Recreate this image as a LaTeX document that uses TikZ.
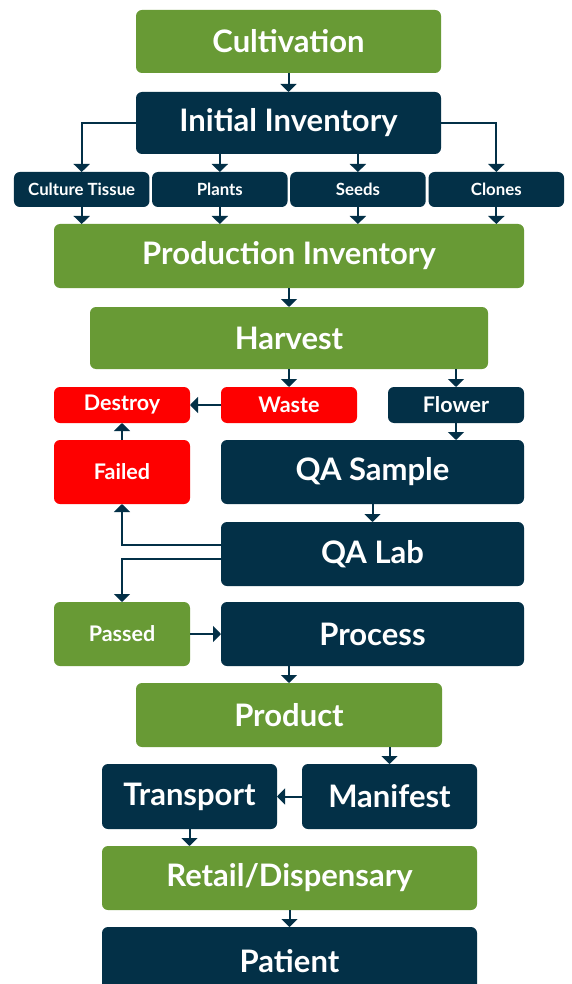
\documentclass[tikz,border=0pt]{standalone}
\usepackage{fontspec}
\setmainfont{Lato}
\usetikzlibrary{arrows.meta}
\definecolor{cgreen}{HTML}{689A35}
\definecolor{cnavy}{HTML}{033047}
\definecolor{cred}{HTML}{FE0000}
\tikzset{
  box/.style={rounded corners=6pt, inner sep=0pt, outer sep=0pt, text=white, font=\bfseries, align=center},
  gbox/.style={box, fill=cgreen},
  nbox/.style={box, fill=cnavy},
  rbox/.style={box, fill=cred},
  big/.style={font=\fontsize{31}{34}\selectfont\bfseries},
  mid/.style={font=\fontsize{21.5}{24}\selectfont\bfseries},
  sml/.style={font=\fontsize{16.8}{19}\selectfont\bfseries},
  conn/.style={draw=cnavy, line width=2pt, -{Triangle[width=16pt,length=8pt]}},
}
\begin{document}
\begin{tikzpicture}[x=1pt,y=-1pt]
\clip (0,0) rectangle (571,984);
\fill[white] (0,0) rectangle (571,984);
% nodes
\node[gbox,big,minimum width=305pt,minimum height=63pt] (cult) at (288.5,41.5) {Cultivation};
\node[nbox,big,minimum width=305pt,minimum height=62pt] (init) at (288.5,123) {Initial Inventory};
\node[nbox,sml,minimum width=135.5pt,minimum height=35pt] (ct) at (81.7,189.5) {Culture Tissue};
\node[nbox,sml,minimum width=135.5pt,minimum height=35pt] (plants) at (219.8,189.5) {Plants};
\node[nbox,sml,minimum width=135.5pt,minimum height=35pt] (seeds) at (357.9,189.5) {Seeds};
\node[nbox,sml,minimum width=135.5pt,minimum height=35pt] (clones) at (496.3,189.5) {Clones};
\node[gbox,big,minimum width=470pt,minimum height=64pt] (prod) at (289,256) {Production Inventory};
\node[gbox,big,minimum width=398pt,minimum height=62pt] (harv) at (289,338) {Harvest};
\node[rbox,mid,minimum width=136pt,minimum height=36pt] (destroy) at (122,405) {Destroy};
\node[rbox,mid,minimum width=136pt,minimum height=36pt] (waste) at (289,405) {Waste};
\node[nbox,mid,minimum width=136pt,minimum height=36pt] (flower) at (456,405) {Flower};
\node[rbox,mid,minimum width=136pt,minimum height=64pt] (failed) at (122,472) {Failed};
\node[nbox,big,minimum width=303pt,minimum height=64pt] (qas) at (372.5,472) {QA Sample};
\node[nbox,big,minimum width=303pt,minimum height=64pt] (qal) at (372.5,554) {QA Lab};
\node[gbox,mid,minimum width=136pt,minimum height=64pt] (passed) at (122,634) {Passed};
\node[nbox,big,minimum width=303pt,minimum height=64pt] (proc) at (372.5,634) {Process};
\node[gbox,big,minimum width=306pt,minimum height=64pt] (product) at (289,715) {Product};
\node[nbox,big,minimum width=175pt,minimum height=65pt] (trans) at (189.5,796.5) {Transport};
\node[nbox,big,minimum width=175pt,minimum height=65pt] (mani) at (389.5,796.5) {Manifest};
\node[gbox,big,minimum width=375pt,minimum height=64pt] (retail) at (289.5,878) {Retail/Dispensary};
\node[nbox,big,minimum width=375pt,minimum height=68pt] (patient) at (289.5,961) {Patient};
% connectors
\draw[conn] (cult) -- (init);
\draw[conn] (init.west) -| (ct.north);
\draw[conn] (plants.north |- init.south) -- (plants.north);
\draw[conn] (seeds.north |- init.south) -- (seeds.north);
\draw[conn] (init.east) -| (clones.north);
\draw[conn] (ct.south) -- (ct.south |- prod.north);
\draw[conn] (plants.south) -- (plants.south |- prod.north);
\draw[conn] (seeds.south) -- (seeds.south |- prod.north);
\draw[conn] (clones.south) -- (clones.south |- prod.north);
\draw[conn] (prod) -- (harv);
\draw[conn] (waste.north |- harv.south) -- (waste.north);
\draw[conn] (flower.north |- harv.south) -- (flower.north);
\draw[conn] (waste.west) -- (destroy.east);
\draw[conn] (failed.north) -- (destroy.south);
\draw[conn] (flower.south) -- (flower.south |- qas.north);
\draw[conn] (qas) -- (qal);
\draw[conn] ([yshift=9pt]qal.west) -| (failed.south);
\draw[conn] ([yshift=-5pt]qal.west) -| (passed.north);
\draw[conn] (passed.east) -- (proc.west);
\draw[conn] (product.north |- proc.south) -- (product.north);
\draw[conn] (mani.north |- product.south) -- (mani.north);
\draw[conn] (mani.west) -- (trans.east);
\draw[conn] (trans.south) -- (trans.south |- retail.north);
\draw[conn] (retail) -- (patient);
\end{tikzpicture}
\end{document}
